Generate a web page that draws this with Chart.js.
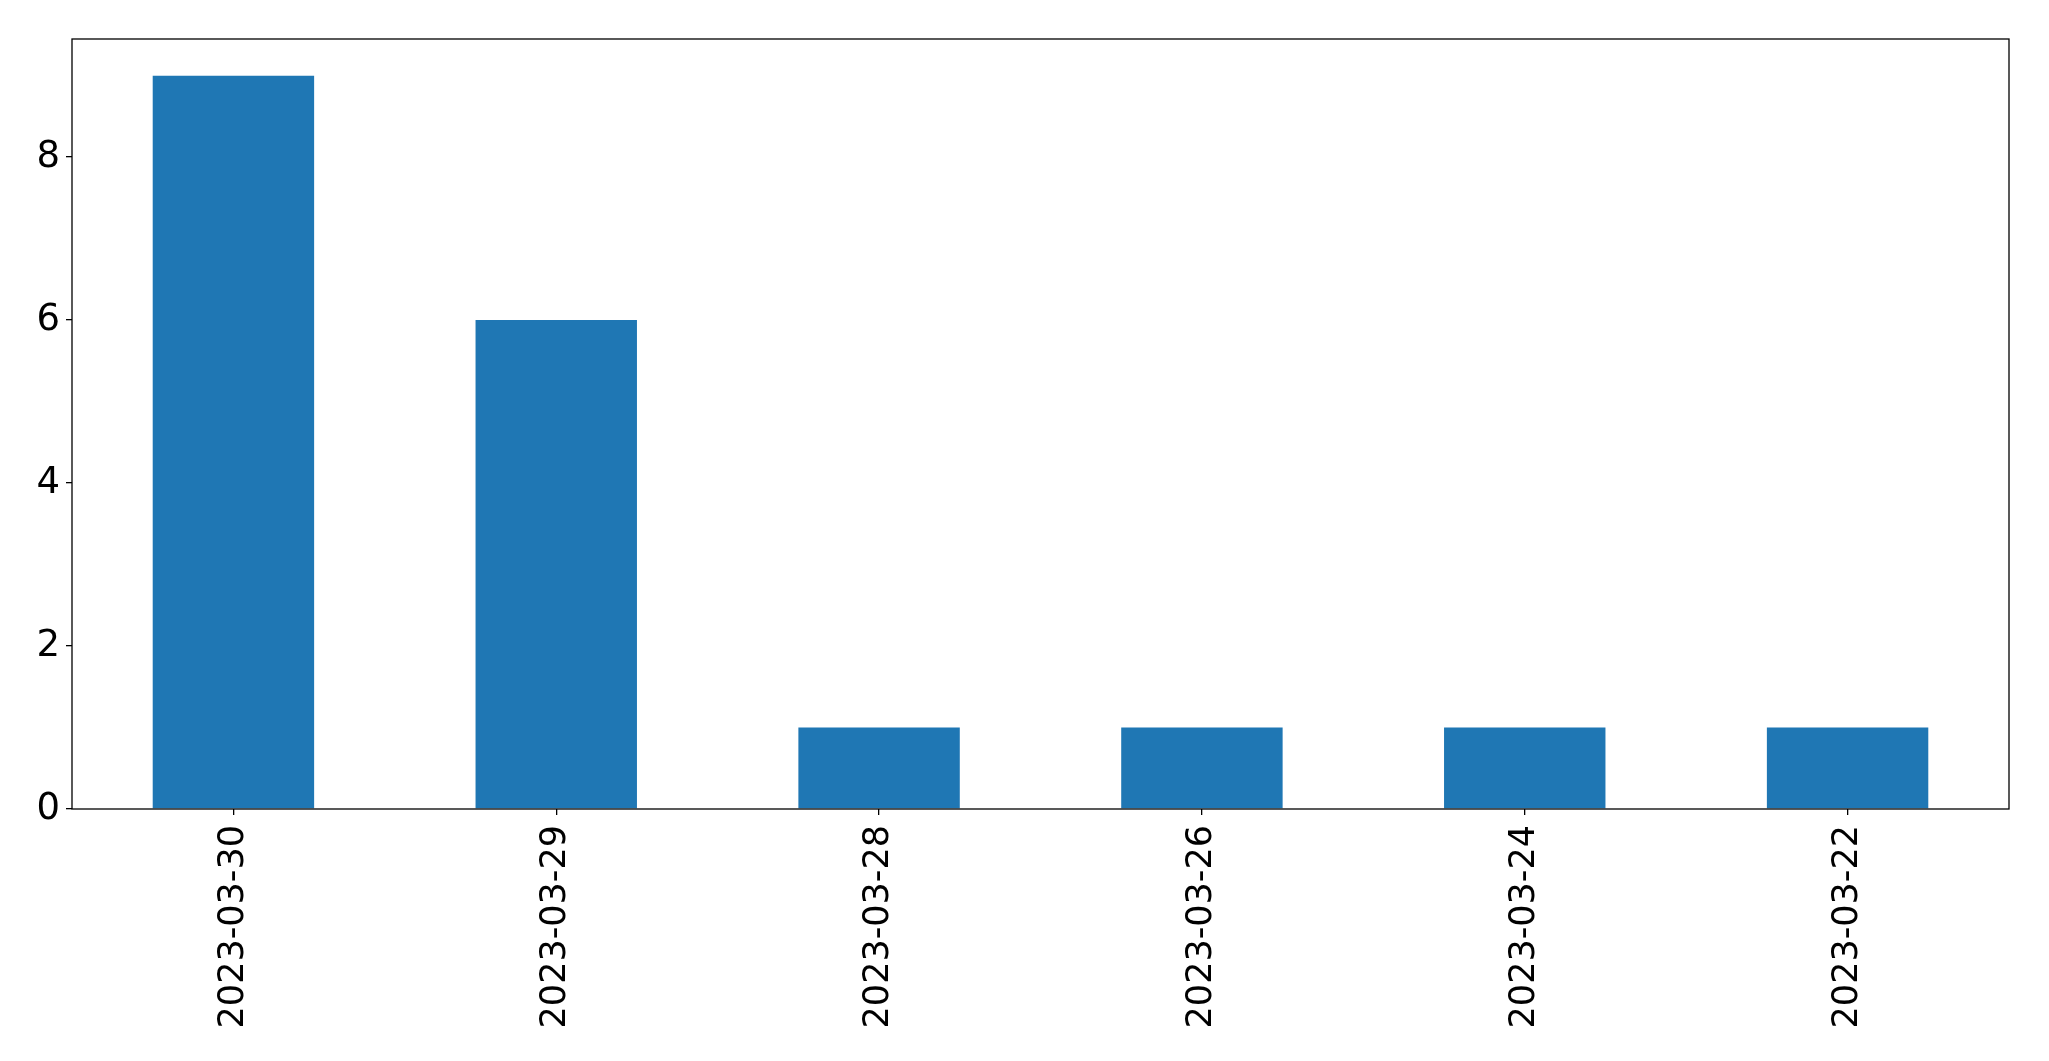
<!DOCTYPE html>
<html>
<head>
<meta charset="utf-8">
<script src="https://cdn.jsdelivr.net/npm/chart.js"></script>
<style>
  html, body { margin: 0; padding: 0; background: #fff; }
  #wrap { width: 2049px; height: 1061px; }
</style>
</head>
<body>
<div id="wrap"><canvas id="chart"></canvas></div>
<script>
// counts per day
const dates = ['2023-03-30', '2023-03-29', '2023-03-28', '2023-03-26', '2023-03-24', '2023-03-22'];
const counts = [9, 6, 1, 1, 1, 1];
const yTicks = [0, 2, 4, 6, 8];

// draws the full box round the plot, like matplotlib does
const frame = {
    id: 'frame',
    afterDraw: function(chart) {
        const a = chart.chartArea;
        const ctx = chart.ctx;
        ctx.save();
        ctx.strokeStyle = '#000';
        ctx.lineWidth = 1.3;
        ctx.strokeRect(a.left, a.top, a.right - a.left, a.bottom - a.top);
        ctx.restore();
    }
};

const ctx = document.getElementById('chart').getContext('2d');
new Chart(ctx, {
    type: 'bar',
    data: {
        labels: dates,
        datasets: [{
            data: counts,
            backgroundColor: '#1f77b4',
            borderWidth: 0,
            categoryPercentage: 1.0,
            barPercentage: 0.5
        }]
    },
    options: {
        responsive: true,
        maintainAspectRatio: false,
        animation: false,
        layout: {
            padding: {top: 39, right: 40, left: 0, bottom: 0}
        },
        scales: {
            x: {
                grid: {
                    display: true,
                    offset: false,
                    drawOnChartArea: false,
                    drawTicks: true,
                    tickLength: 6,
                    color: '#000',
                    lineWidth: 1.3
                },
                border: {display: false},
                ticks: {
                    color: '#000',
                    maxRotation: 90,
                    minRotation: 90,
                    padding: 10,
                    font: {family: 'DejaVu Sans', size: 35}
                },
                afterFit: function(scale) {
                    scale.height = 252;
                }
            },
            y: {
                min: 0,
                max: 9.45,
                grid: {
                    display: true,
                    drawOnChartArea: false,
                    drawTicks: true,
                    tickLength: 6,
                    color: '#000',
                    lineWidth: 1.3
                },
                border: {display: false},
                ticks: {
                    color: '#000',
                    padding: 6,
                    font: {family: 'DejaVu Sans', size: 37}
                },
                afterBuildTicks: function(scale) {
                    scale.ticks = yTicks.map(function(v) { return {value: v}; });
                },
                afterFit: function(scale) {
                    scale.width = 72;
                }
            }
        },
        plugins: {
            legend: {display: false},
            tooltip: {enabled: false}
        }
    },
    plugins: [frame]
});
</script>
</body>
</html>
